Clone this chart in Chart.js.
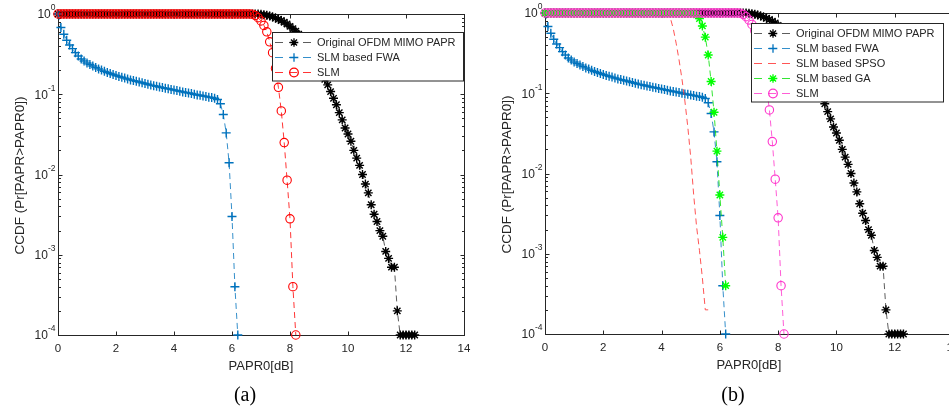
<!DOCTYPE html>
<html>
<head>
<meta charset="utf-8">
<script src="https://cdn.jsdelivr.net/npm/chart.js@4.4.0/dist/chart.umd.min.js"></script>
<style>
  html, body { margin: 0; padding: 0; background: #fff; overflow: hidden; width: 949px; height: 410px; }
  canvas { position: absolute; top: 0; }
  #chartA { left: 0; }
  #chartB { left: 475px; }
</style>
</head>
<body>
<canvas id="chartA" width="475" height="410"></canvas>
<canvas id="chartB" width="495" height="410"></canvas>
<script>
// ── Données ──────────────────────────────────────────────────────────────────

// PAPR0 en dB, pas de 0.1
const papr = [
  0.0, 0.1, 0.2, 0.3, 0.4, 0.5, 0.6, 0.7, 0.8, 0.9,
  1.0, 1.1, 1.2, 1.3, 1.4, 1.5, 1.6, 1.7, 1.8, 1.9,
  2.0, 2.1, 2.2, 2.3, 2.4, 2.5, 2.6, 2.7, 2.8, 2.9,
  3.0, 3.1, 3.2, 3.3, 3.4, 3.5, 3.6, 3.7, 3.8, 3.9,
  4.0, 4.1, 4.2, 4.3, 4.4, 4.5, 4.6, 4.7, 4.8, 4.9,
  5.0, 5.1, 5.2, 5.3, 5.4, 5.5, 5.6, 5.7, 5.8, 5.9,
  6.0, 6.1, 6.2, 6.3, 6.4, 6.5, 6.6, 6.7, 6.8, 6.9,
  7.0, 7.1, 7.2, 7.3, 7.4, 7.5, 7.6, 7.7, 7.8, 7.9,
  8.0, 8.1, 8.2, 8.3, 8.4, 8.5, 8.6, 8.7, 8.8, 8.9,
  9.0, 9.1, 9.2, 9.3, 9.4, 9.5, 9.6, 9.7, 9.8, 9.9,
  10.0, 10.1, 10.2, 10.3, 10.4, 10.5, 10.6, 10.7, 10.8, 10.9,
  11.0, 11.1, 11.2, 11.3, 11.4, 11.5, 11.6, 11.7, 11.8, 11.9,
  12.0, 12.1, 12.2, 12.3,
];

const ccdfOriginal = [
  1, 1, 1, 1, 1, 1, 1, 1, 1, 1,
  1, 1, 1, 1, 1, 1, 1, 1, 1, 1,
  1, 1, 1, 1, 1, 1, 1, 1, 1, 1,
  1, 1, 1, 1, 1, 1, 1, 1, 1, 1,
  1, 1, 1, 1, 1, 1, 1, 1, 1, 1,
  1, 1, 1, 1, 1, 1, 1, 1, 1, 1,
  1, 1, 1, 1, 1, 1, 1, 1, 1, 0.997,
  0.99, 0.98, 0.965, 0.945, 0.92, 0.89, 0.86, 0.83, 0.79, 0.75,
  0.7, 0.655, 0.61, 0.56, 0.51, 0.455, 0.4, 0.35, 0.3, 0.255,
  0.215, 0.18, 0.153, 0.131, 0.108, 0.089, 0.074, 0.059, 0.048, 0.038,
  0.032, 0.026, 0.02, 0.016, 0.013, 0.01, 0.0076, 0.0059, 0.0042, 0.0032,
  0.0026, 0.002, 0.0017, 0.0011, 0.0009, 0.0007, 0.0007, 0.0002, 0.0001, 0.0001,
  0.0001, 0.0001, 0.0001, 0.0001,
];

const ccdfFwa = [
  1, 0.68, 0.56, 0.47, 0.41, 0.37, 0.33, 0.3, 0.275, 0.26,
  0.245, 0.235, 0.225, 0.215, 0.207, 0.2, 0.193, 0.187, 0.181, 0.176,
  0.171, 0.167, 0.163, 0.159, 0.155, 0.151, 0.148, 0.145, 0.142, 0.139,
  0.136, 0.133, 0.13, 0.128, 0.126, 0.123, 0.121, 0.119, 0.117, 0.115,
  0.113, 0.111, 0.109, 0.107, 0.105, 0.104, 0.102, 0.1, 0.098, 0.097,
  0.095, 0.094, 0.092, 0.091, 0.089, 0.086, 0.076, 0.056, 0.033, 0.014,
  0.003, 0.0004, 0.0001,
];

const ccdfSpso = [
  1, 1, 1, 1, 1, 1, 1, 1, 1, 1,
  1, 1, 1, 1, 1, 1, 1, 1, 1, 1,
  1, 1, 1, 1, 1, 1, 1, 1, 1, 1,
  1, 1, 1, 1, 1, 1, 1, 1, 1, 1,
  1, 1, 0.98, 0.87, 0.64, 0.42, 0.26, 0.15, 0.08, 0.038,
  0.016, 0.0055, 0.0022, 0.0011, 0.0005, 0.0002, 0.0002,
];

const ccdfGa = [
  1, 1, 1, 1, 1, 1, 1, 1, 1, 1,
  1, 1, 1, 1, 1, 1, 1, 1, 1, 1,
  1, 1, 1, 1, 1, 1, 1, 1, 1, 1,
  1, 1, 1, 1, 1, 1, 1, 1, 1, 1,
  1, 1, 1, 1, 1, 1, 1, 1, 1, 1,
  1, 1, 0.95, 0.85, 0.69, 0.5, 0.3, 0.14, 0.058, 0.019,
  0.0054, 0.0016, 0.0004,
];

const ccdfSlm = [
  1, 1, 1, 1, 1, 1, 1, 1, 1, 1,
  1, 1, 1, 1, 1, 1, 1, 1, 1, 1,
  1, 1, 1, 1, 1, 1, 1, 1, 1, 1,
  1, 1, 1, 1, 1, 1, 1, 1, 1, 1,
  1, 1, 1, 1, 1, 1, 1, 1, 1, 1,
  1, 1, 1, 1, 1, 1, 1, 1, 1, 1,
  1, 1, 1, 1, 1, 1, 1, 0.995, 0.96, 0.9,
  0.82, 0.72, 0.6, 0.45, 0.33, 0.21, 0.122, 0.062, 0.025, 0.0085,
  0.0028, 0.0004, 0.0001,
];

const xTicks = [0, 2, 4, 6, 8, 10, 12, 14];
const yTicks = [1e-4, 1e-3, 1e-2, 1e-1, 1];
const yExponents = ['-4', '-3', '-2', '-1', '0'];
const minorSteps = [2, 3, 4, 5, 6, 7, 8, 9];

// ── Styles ──────────────────────────────────────────────────────────────────

const AXIS = '#262626';
const SANS = '"Liberation Sans", Arial, sans-serif';

const sOriginal = { label: 'Original OFDM MIMO PAPR', data: ccdfOriginal, color: '#000000', line: '#333333', marker: 'star' };
const sFwa      = { label: 'SLM based FWA',  data: ccdfFwa,  color: '#0072bd', line: '#0072bd', marker: 'cross' };
const sSpso     = { label: 'SLM based SPSO', data: ccdfSpso, color: '#ff2a2a', line: '#ff2a2a', marker: null };
const sGa       = { label: 'SLM based GA',   data: ccdfGa,   color: '#00ff00', line: '#00dd00', marker: 'star' };
const sSlmA     = { label: 'SLM', data: ccdfSlm, color: '#ff0000', line: '#ff0000', marker: 'circle' };
const sSlmB     = { label: 'SLM', data: ccdfSlm, color: '#ff33cc', line: '#ff33cc', marker: 'circle' };

const pts = arr => arr.map((v, i) => ({ x: papr[i], y: v }));

// Marqueur pour la légende (mêmes formes que Chart.js)
function drawMarker(ctx, style, x, y, r, color) {
  ctx.save();
  ctx.strokeStyle = color;
  ctx.lineWidth = 1.3;
  ctx.beginPath();
  if (style === 'circle') {
    ctx.arc(x, y, r, 0, Math.PI * 2);
  } else if (style === 'cross' || style === 'star') {
    ctx.moveTo(x - r, y); ctx.lineTo(x + r, y);
    ctx.moveTo(x, y - r); ctx.lineTo(x, y + r);
    if (style === 'star') {
      const d = r * Math.SQRT1_2;
      ctx.moveTo(x - d, y - d); ctx.lineTo(x + d, y + d);
      ctx.moveTo(x - d, y + d); ctx.lineTo(x + d, y - d);
    }
  }
  ctx.stroke();
  ctx.restore();
}

// Cadre, graduations internes, libellés (style MATLAB)
const framePlugin = {
  id: 'frame',
  beforeDatasetsDraw(chart, args, opts) {
    const { ctx, chartArea: a, scales: { x, y } } = chart;
    const L = Math.round(a.left) + 0.5, R = Math.round(a.right) + 0.5;
    const T = Math.round(a.top) + 0.5, B = Math.round(a.bottom) + 0.5;
    ctx.save();
    ctx.strokeStyle = AXIS;
    ctx.lineWidth = 1;
    ctx.strokeRect(L, T, R - L, B - T);

    ctx.beginPath();
    xTicks.forEach(v => {
      const px = Math.round(x.getPixelForValue(v)) + 0.5;
      ctx.moveTo(px, B); ctx.lineTo(px, B - 4);
      ctx.moveTo(px, T); ctx.lineTo(px, T + 4);
    });
    yTicks.forEach((v, i) => {
      const py = Math.round(y.getPixelForValue(v)) + 0.5;
      ctx.moveTo(L, py); ctx.lineTo(L + 4, py);
      ctx.moveTo(R, py); ctx.lineTo(R - 4, py);
      if (i < yTicks.length - 1) {
        minorSteps.forEach(m => {
          const pm = Math.round(y.getPixelForValue(v * m)) + 0.5;
          ctx.moveTo(L, pm); ctx.lineTo(L + 2.5, pm);
          ctx.moveTo(R, pm); ctx.lineTo(R - 2.5, pm);
        });
      }
    });
    ctx.stroke();

    ctx.fillStyle = AXIS;
    ctx.textBaseline = 'middle';
    ctx.font = '11.5px ' + SANS;
    ctx.textAlign = 'center';
    xTicks.forEach(v => ctx.fillText(String(v), x.getPixelForValue(v), B + 13));

    yTicks.forEach((v, i) => {
      const py = y.getPixelForValue(v);
      ctx.font = '8.5px ' + SANS;
      const ws = ctx.measureText(yExponents[i]).width;
      ctx.textAlign = 'right';
      ctx.fillText(yExponents[i], L - 3, py - 6);
      ctx.font = '12px ' + SANS;
      ctx.fillText('10', L - 3 - ws, py + 1);
    });

    ctx.font = '13px ' + SANS;
    ctx.textAlign = 'center';
    const cx = (a.left + a.right) / 2;
    ctx.fillText('PAPR0[dB]', cx, B + 31);

    ctx.save();
    ctx.font = '13.5px ' + SANS;
    ctx.translate(L - 38, (a.top + a.bottom) / 2 + 1);
    ctx.rotate(-Math.PI / 2);
    ctx.fillText('CCDF (Pr[PAPR>PAPR0])', 0, 0);
    ctx.restore();

    ctx.fillStyle = '#000';
    ctx.font = '20px "Liberation Serif", "Times New Roman", serif';
    ctx.fillText(opts.caption, cx - 16, 396);
    ctx.restore();
  },
  afterDatasetsDraw(chart, args, opts) {
    const { ctx } = chart;
    const box = opts.box;
    const n = opts.series.length;
    const h = 10.5 + 15 * (n - 1) + 8;
    ctx.save();
    ctx.fillStyle = '#fff';
    ctx.fillRect(box.x, box.y, box.w, h);
    ctx.strokeStyle = AXIS;
    ctx.lineWidth = 1;
    ctx.strokeRect(box.x + 0.5, box.y + 0.5, box.w, h);
    opts.series.forEach((s, i) => {
      const yy = box.y + 10.5 + 15 * i;
      const x0 = box.x + 3;
      ctx.save();
      ctx.strokeStyle = s.line;
      ctx.lineWidth = 0.8;
      ctx.setLineDash([8, 6]);
      ctx.beginPath();
      ctx.moveTo(x0, yy); ctx.lineTo(x0 + 38, yy);
      ctx.stroke();
      ctx.restore();
      if (s.marker) drawMarker(ctx, s.marker, x0 + 19, yy, 4.3, s.color);
      ctx.fillStyle = AXIS;
      ctx.font = '11px ' + SANS;
      ctx.textAlign = 'left';
      ctx.textBaseline = 'middle';
      ctx.fillText(s.label, box.x + 45, yy + 0.5);
    });
    ctx.restore();
  },
};

function makeChart(id, series, padding, caption, box) {
  const n = series.length;
  return new Chart(document.getElementById(id), {
    type: 'line',
    data: {
      datasets: series.map((s, k) => ({
        label: s.label,
        data: pts(s.data),
        order: n - k,
        borderColor: s.line,
        borderWidth: 0.8,
        borderDash: [6, 4],
        pointStyle: s.marker || 'circle',
        pointRadius: s.marker ? (s.marker === 'circle' ? 4.2 : 4.5) : 0,
        pointHoverRadius: 0,
        pointBorderColor: s.color,
        pointBackgroundColor: 'transparent',
        pointBorderWidth: s.marker === 'circle' ? 1.1 : 1.4,
        tension: 0,
        fill: false,
        clip: false,
      })),
    },
    options: {
      responsive: false,
      animation: false,
      events: [],
      layout: { padding },
      plugins: {
        legend: { display: false },
        tooltip: { enabled: false },
        frame: { caption, box, series },
      },
      scales: {
        x: { type: 'linear', min: 0, max: 14, display: false },
        y: { type: 'logarithmic', min: 1e-4, max: 1, display: false },
      },
    },
    plugins: [framePlugin],
  });
}

makeChart('chartA', [sOriginal, sFwa, sSlmA],
  { left: 58, top: 14, right: 11, bottom: 75 }, '(a)',
  { x: 272, y: 32, w: 191 });

makeChart('chartB', [sOriginal, sFwa, sSpso, sGa, sSlmB],
  { left: 70, top: 13, right: 17, bottom: 76 }, '(b)',
  { x: 276, y: 23, w: 192 });
</script>
</body>
</html>
